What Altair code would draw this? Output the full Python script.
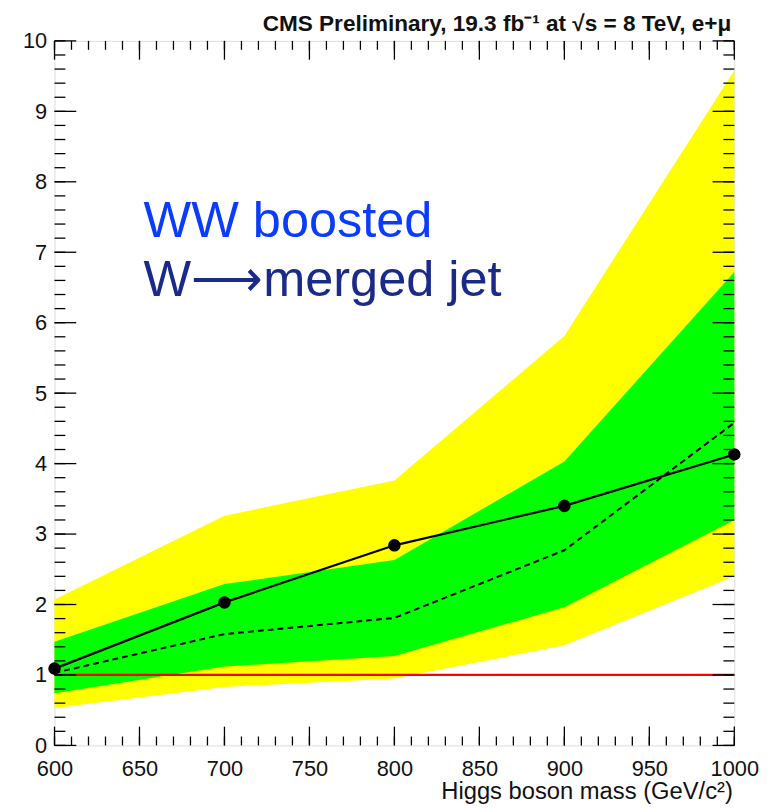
import altair as alt
import pandas as pd

# ---- data ----
mass = [600, 700, 800, 900, 1000]
observed = [1.09, 2.03, 2.84, 3.40, 4.13]
expected = [1.03, 1.58, 1.81, 2.77, 4.58]
band1_lo = [0.74, 1.12, 1.27, 1.96, 3.20]
band1_hi = [1.47, 2.29, 2.63, 4.03, 6.72]
band2_lo = [0.53, 0.83, 0.95, 1.42, 2.40]
band2_hi = [2.07, 3.26, 3.76, 5.81, 9.58]
ref_line = [1.0]

x_labels = [600, 650, 700, 750, 800, 850, 900, 950, 1000]
x_minor = list(range(600, 1001, 10))
y_labels = [0, 1, 2, 3, 4, 5, 6, 7, 8, 9, 10]
y_minor = [round(i * 0.2, 1) for i in range(0, 51)]

W, H = 687, 712
FONT = "Liberation Sans"

df = pd.DataFrame({
    "mass": mass, "obs": observed, "exp": expected,
    "b1lo": band1_lo, "b1hi": band1_hi, "b2lo": band2_lo, "b2hi": band2_hi,
})

xs = alt.Scale(domain=[600, 1000], nice=False, zero=False)
ys = alt.Scale(domain=[0, 10], nice=False, zero=False)

xaxis = alt.Axis(values=x_labels, format="d", ticks=False, domain=False, grid=False,
                 labelFont=FONT, labelFontSize=22, labelColor="#111",
                 labelPadding=13, labelFlush=False,
                 title="Higgs boson mass (GeV/c²)", titleFont=FONT,
                 titleFontSize=24, titleFontWeight="normal", titleColor="#111",
                 titleAnchor="end", titleAlign="right", titleX=W - 2, titleY=54,
                 titleBaseline="alphabetic")
yaxis = alt.Axis(values=y_labels, format="d", ticks=False, domain=False, grid=False,
                 labelFont=FONT, labelFontSize=22, labelColor="#111",
                 labelPadding=8, labelFlush=False, title=None)

base = alt.Chart(df)

yellow = base.mark_area(color="#ffff00", opacity=1).encode(
    x=alt.X("mass:Q", scale=xs, axis=xaxis),
    y=alt.Y("b2lo:Q", scale=ys, axis=yaxis),
    y2="b2hi:Q")
green = base.mark_area(color="#00ff00", opacity=1).encode(
    x=alt.X("mass:Q", scale=xs), y=alt.Y("b1lo:Q", scale=ys), y2="b1hi:Q")

red = alt.Chart(pd.DataFrame({"y": ref_line})).mark_rule(
    color="#ff0000", strokeWidth=2.2).encode(y=alt.Y("y:Q", scale=ys))

exp_line = base.mark_line(color="black", strokeWidth=2, strokeDash=[6, 4]).encode(
    x=alt.X("mass:Q", scale=xs), y=alt.Y("exp:Q", scale=ys))
obs_line = base.mark_line(color="black", strokeWidth=2.2).encode(
    x=alt.X("mass:Q", scale=xs), y=alt.Y("obs:Q", scale=ys))
obs_pts = base.mark_circle(color="black", opacity=1, size=160).encode(
    x=alt.X("mass:Q", scale=xs), y=alt.Y("obs:Q", scale=ys))

# inside tick marks (ROOT style) on all four sides
xmaj = pd.DataFrame({"v": x_labels})
xmin = pd.DataFrame({"v": x_minor})
ymaj = pd.DataFrame({"v": y_labels})
ymin = pd.DataFrame({"v": y_minor})

def xticks(d, L):
    b = alt.Chart(d).mark_rule(color="black", strokeWidth=1.3)
    return (b.encode(x=alt.X("v:Q", scale=xs), y=alt.value(H), y2=alt.value(H - L)) +
            b.encode(x=alt.X("v:Q", scale=xs), y=alt.value(0), y2=alt.value(L)))

def yticks(d, L):
    b = alt.Chart(d).mark_rule(color="black", strokeWidth=1.3)
    return (b.encode(y=alt.Y("v:Q", scale=ys), x=alt.value(0), x2=alt.value(L)) +
            b.encode(y=alt.Y("v:Q", scale=ys), x=alt.value(W), x2=alt.value(W - L)))

ticks = xticks(xmaj, 19) + xticks(xmin, 9) + yticks(ymaj, 22) + yticks(ymin, 11)

txt1 = alt.Chart(pd.DataFrame({"t": ["WW boosted"]})).mark_text(
    font=FONT, fontSize=51, color="#0a3cff", align="left", baseline="alphabetic"
).encode(text="t:N", x=alt.value(90), y=alt.value(198))
txt2 = alt.Chart(pd.DataFrame({"t": ["W⟶merged jet"]})).mark_text(
    font=FONT, fontSize=51, color="#1a2a8a", align="left", baseline="alphabetic"
).encode(text="t:N", x=alt.value(90), y=alt.value(258))

title = alt.Chart(pd.DataFrame({"t": ["CMS Preliminary, 19.3 fb⁻¹ at √s = 8 TeV, e+μ"]})).mark_text(
    font=FONT, fontSize=22.8, fontWeight="bold",
    color="#111", align="right", baseline="alphabetic"
).encode(text="t:N", x=alt.value(684), y=alt.value(-10))

chart = alt.layer(yellow, green, red, exp_line, obs_line, obs_pts, ticks, txt1, txt2, title).properties(
    width=W, height=H,
    autosize=alt.AutoSizeParams(type="none"),
    padding={"left": 47, "top": 29, "right": 28, "bottom": 58},
).configure_view(stroke="black", strokeWidth=2).configure(background="white")

chart.save("out.html", embed_options={"renderer": "svg", "actions": False})
